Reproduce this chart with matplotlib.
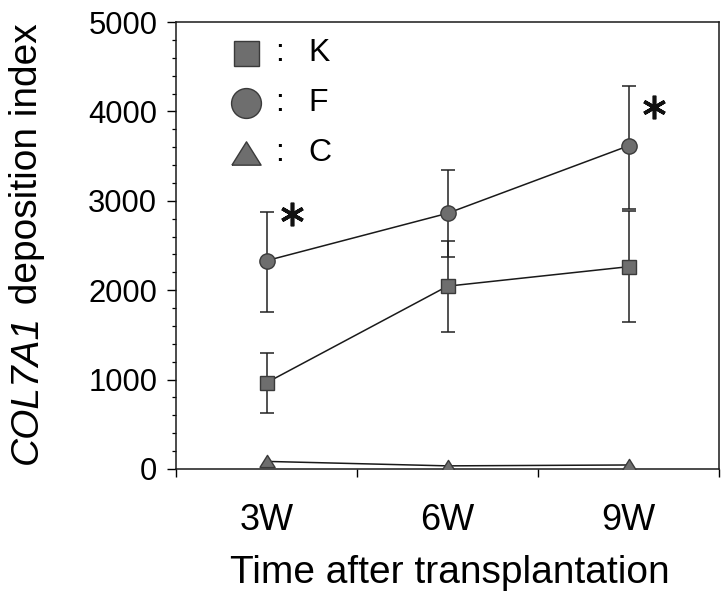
import matplotlib
matplotlib.use("Agg")
import matplotlib.pyplot as plt
import numpy as np

plt.rcParams['font.family'] = ['Liberation Sans', 'DejaVu Sans']

# ---- data ----
categories = ['3W', '6W', '9W']
K_mean = [965, 2045, 2263]
K_upper = [1300, 2555, 2885]
K_lower = [630, 1532, 1645]
F_mean = [2330, 2860, 3615]
F_upper = [2878, 3344, 4284]
F_lower = [1760, 2372, 2910]
C_mean = [85, 35, 45]
sig_categories = ['3W', '9W']
sig_y = [2850, 4045]
legend_names = ['K', 'F', 'C']
y_ticks = [0, 1000, 2000, 3000, 4000, 5000]

W, H = 727, 597
fig = plt.figure(figsize=(W / 100, H / 100), dpi=100)
ax = fig.add_axes([176 / W, 1 - 469 / H, 543 / W, 447 / H])

x = np.arange(len(categories)) + 0.5
face = '#6e6e6e'
edge = '#3a3a3a'
tri = [(-1, -0.8), (1, -0.8), (0, 0.8), (-1, -0.8)]

def err(mean, lo, up):
    m = np.array(mean); return [m - np.array(lo), np.array(up) - m]

ax.errorbar(x, F_mean, yerr=err(F_mean, F_lower, F_upper), fmt='none',
            ecolor='#222222', elinewidth=1.1, capsize=5, capthick=1.1, zorder=2)
ax.errorbar(x, K_mean, yerr=err(K_mean, K_lower, K_upper), fmt='none',
            ecolor='#222222', elinewidth=1.1, capsize=5, capthick=1.1, zorder=2)
ax.plot(x, F_mean, '-', color='#1a1a1a', lw=1.1, zorder=3)
ax.plot(x, K_mean, '-', color='#1a1a1a', lw=1.1, zorder=3)
ax.plot(x, C_mean, '-', color='#1a1a1a', lw=1.1, zorder=3)
ax.plot(x, F_mean, 'o', ms=11, mfc=face, mec=edge, mew=1.0, lw=0, zorder=4)
ax.plot(x, K_mean, 's', ms=10, mfc=face, mec=edge, mew=1.0, lw=0, zorder=4)
ax.plot(x, C_mean, marker=tri, ms=11, mfc=face, mec=edge, mew=1.0, lw=0, zorder=4)

# significance asterisks
for cat, yv in zip(sig_categories, sig_y):
    xi = categories.index(cat) + 0.5 + 0.14
    ax.plot([xi], [yv], marker=(6, 2, 0), ms=17, mew=2.6, color='#111111',
            lw=0, zorder=5)

ax.set_xlim(0, 3)
ax.set_ylim(0, 5000)
ax.set_yticks(y_ticks)
ax.set_yticklabels([str(v) for v in y_ticks])
ax.set_yticks(np.arange(0, 5001, 200), minor=True)
ax.tick_params(axis='y', which='major', direction='out', length=6.5, width=1.0,
               labelsize=22.3, pad=7)
ax.tick_params(axis='y', which='minor', direction='out', length=3, width=0.9)
ax.set_xticks([0, 1, 2, 3])
ax.set_xticklabels(['', '', '', ''])
ax.set_xticks(x, minor=True)
ax.set_xticklabels(categories, minor=True)
ax.tick_params(axis='x', which='major', direction='out', length=6, width=1.0)
ax.tick_params(axis='x', which='minor', length=0, labelsize=26, pad=24.5)
for s in ax.spines.values():
    s.set_linewidth(1.1)
    s.set_color('#1a1a1a')

# legend drawn manually
leg_y = [0.93, 0.819, 0.707]
leg_markers = ['s', 'o', tri]
leg_sizes = [18, 21.5, 21]
for name, yy, mk, sz in zip(legend_names, leg_y, leg_markers, leg_sizes):
    ax.plot([0.129], [yy], marker=mk, ms=sz, mfc=face, mec=edge, mew=1.0,
            transform=ax.transAxes, clip_on=False, lw=0)
    ax.text(0.19, yy, ':', transform=ax.transAxes, fontsize=23,
            ha='center', va='center')
    ax.text(0.243, yy, name, transform=ax.transAxes, fontsize=23,
            ha='left', va='center')

# y label: italic gene name + regular text, centred as a whole
renderer = fig.canvas.get_renderer()
lx = 27
t1 = fig.text(lx / W, 0, 'COL7A1', style='italic', rotation=90, fontsize=28,
              ha='center', va='bottom')
t2 = fig.text(lx / W, 0, ' deposition index', rotation=90, fontsize=28,
              ha='center', va='bottom')
h1 = t1.get_window_extent(renderer).height
h2 = t2.get_window_extent(renderer).height
total = h1 + h2
y0 = (H - 244) - total / 2
t1.set_position((lx / W, y0 / H))
t2.set_position((lx / W, (y0 + h1) / H))

fig.text(450 / W, 1 - 583 / H, 'Time after transplantation',
         fontsize=28, ha='center', va='baseline')

fig.savefig('out.png', dpi=100)
